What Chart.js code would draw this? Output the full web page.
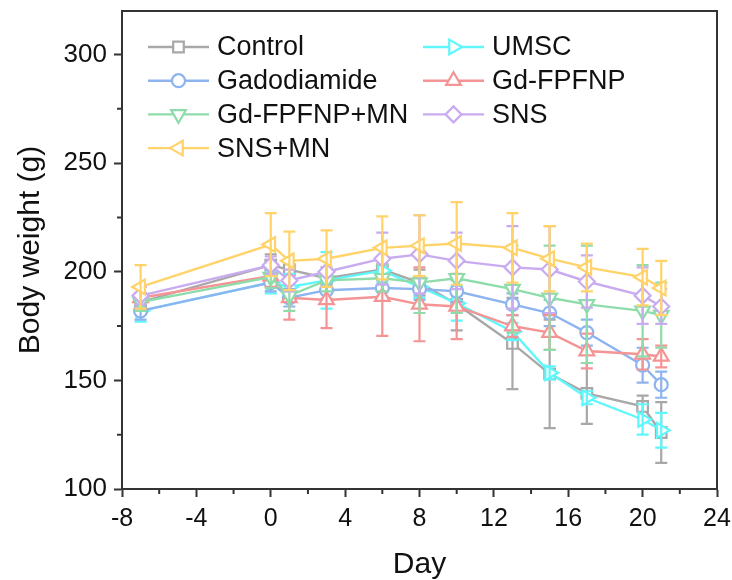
<!DOCTYPE html>
<html>
<head>
<meta charset="utf-8">
<script src="https://cdn.jsdelivr.net/npm/chart.js@4/dist/chart.umd.min.js"></script>
<style>
  html, body { margin: 0; padding: 0; background: #fff; }
  #wrap { width: 732px; height: 580px; }
</style>
</head>
<body>
<div id="wrap"><canvas id="chart" width="732" height="580"></canvas></div>
<script>
// ─── data ──────────────────────────────────────────────────────
const days = [-7, 0, 1, 3, 6, 8, 10, 13, 15, 17, 20, 21];

const control      = [186, 203, 201, 197, 201, 195, 185, 167, 153, 144, 138, 126];
const controlErr   = [4, 5, 4, 5, 5, 6, 12, 21, 25, 14, 5, 14];
const umsc         = [182, 195, 193, 196, 200.5, 193, 185.5, 172.5, 153.5, 142, 132, 127];
const umscErr      = [5, 5, 6, 13, 5, 5, 8, 4, 3, 3, 7, 8];
const gadodiamide  = [182, 195, 188, 191.5, 192.5, 192, 191, 185, 181, 172, 157, 148];
const gadoErr      = [4, 4, 4, 4, 4, 5, 5, 5, 6, 6, 8, 6];
const gdFpfnp      = [188, 198, 188, 187, 188.5, 185, 184, 175, 172, 163.5, 162, 161];
const gdFpfnpErr   = [5, 5, 10, 13, 18, 17, 15, 5, 8, 8, 7, 5];
const gdFpfnpMn    = [186, 197.5, 189, 196, 197, 195, 197, 192, 188, 185, 182, 180];
const gdFpfnpMnErr = [4, 5, 7, 5, 6, 14, 16, 20, 24, 27, 21, 15];
const sns          = [189, 203, 196, 200, 206, 208, 205, 202, 201, 195.5, 189, 184];
const snsErr       = [4, 4, 5, 7, 12, 18, 13, 19, 20, 12, 13, 8];
const snsMn        = [193, 212.5, 205, 206, 211, 212, 213, 211, 206, 202, 197.5, 192.5];
const snsMnErr     = [10, 14.5, 13.5, 13, 14.5, 14, 19, 16, 15, 11, 13, 12.5];

const xTicks = [-8, -4, 0, 4, 8, 12, 16, 20, 24];
const yTicks = [100, 150, 200, 250, 300];

const FONT = "'Liberation Sans', Arial, sans-serif";

// series: label, values, errors, colour, marker
const series = [
  ['Control',      control,     controlErr,   '#a8a8a8', 'rect',     0,   7.5],
  ['UMSC',         umsc,        umscErr,      '#5ff7fb', 'triangle', 90,  8.5],
  ['Gadodiamide',  gadodiamide, gadoErr,      '#8eb4f0', 'circle',   0,   6.5],
  ['Gd-FPFNP',     gdFpfnp,     gdFpfnpErr,   '#f59494', 'triangle', 0,   8.5],
  ['Gd-FPFNP+MN',  gdFpfnpMn,   gdFpfnpMnErr, '#8fdcab', 'triangle', 180, 8.5],
  ['SNS',          sns,         snsErr,       '#c9abf0', 'rectRot',  0,   8],
  ['SNS+MN',       snsMn,       snsMnErr,     '#ffd36a', 'triangle', -90, 8.5]
];

const datasets = series.map((s, i) => ({
  label: s[0],
  data: days.map((d, k) => ({ x: d, y: s[1][k] })),
  errors: s[2],
  borderColor: s[3],
  backgroundColor: '#ffffff',
  pointBackgroundColor: '#ffffff',
  pointBorderColor: s[3],
  pointStyle: s[4],
  pointRotation: s[5],
  pointRadius: s[6],
  pointHoverRadius: s[6],
  pointBorderWidth: 2.2,
  borderWidth: 2.4,
  tension: 0,
  order: -i
}));

// ─── error bars, drawn right after each series ─────────────────
const errorBars = {
  id: 'errorBars',
  afterDatasetDraw(chart, args) {
    const ds = chart.data.datasets[args.index];
    const ys = chart.scales.y;
    const ctx = chart.ctx;
    ctx.save();
    ctx.strokeStyle = ds.borderColor;
    ctx.lineWidth = 2.2;
    args.meta.data.forEach((pt, i) => {
      const v = ds.data[i].y, e = ds.errors[i];
      const top = ys.getPixelForValue(v + e);
      const bot = ys.getPixelForValue(v - e);
      const x = pt.x;
      ctx.beginPath();
      ctx.moveTo(x, top); ctx.lineTo(x, bot);
      ctx.moveTo(x - 6, top); ctx.lineTo(x + 6, top);
      ctx.moveTo(x - 6, bot); ctx.lineTo(x + 6, bot);
      ctx.stroke();
    });
    ctx.restore();
  }
};

// ─── frame + minor ticks ───────────────────────────────────────
const frame = {
  id: 'frame',
  afterDraw(chart) {
    const { ctx, chartArea: a, scales } = chart;
    ctx.save();
    ctx.strokeStyle = '#333';
    ctx.lineWidth = 2;
    ctx.beginPath();
    ctx.moveTo(a.left, a.top); ctx.lineTo(a.right, a.top); ctx.lineTo(a.right, a.bottom);
    // minor ticks
    [125, 175, 225, 275].forEach(v => {
      const y = scales.y.getPixelForValue(v);
      ctx.moveTo(a.left, y); ctx.lineTo(a.left - 5, y);
    });
    [-6, -2, 2, 6, 10, 14, 18, 22].forEach(v => {
      const x = scales.x.getPixelForValue(v);
      ctx.moveTo(x, a.bottom); ctx.lineTo(x, a.bottom + 5);
    });
    ctx.stroke();
    ctx.restore();
  }
};

// ─── legend inside the plot, two columns ──────────────────────
const legendInside = {
  id: 'legendInside',
  afterDraw(chart) {
    const ctx = chart.ctx;
    const cols = [
      { x: 148, items: ['Control', 'Gadodiamide', 'Gd-FPFNP+MN', 'SNS+MN'] },
      { x: 423, items: ['UMSC', 'Gd-FPFNP', 'SNS'] }
    ];
    ctx.save();
    ctx.font = `27px ${FONT}`;
    ctx.textBaseline = 'middle';
    cols.forEach(col => {
      col.items.forEach((name, r) => {
        const ds = chart.data.datasets.find(d => d.label === name);
        const y = 47 + r * 33.7;
        ctx.strokeStyle = ds.borderColor;
        ctx.lineWidth = 2.4;
        ctx.beginPath();
        ctx.moveTo(col.x, y); ctx.lineTo(col.x + 61, y);
        ctx.stroke();
        ctx.fillStyle = '#fff';
        ctx.lineWidth = 2.2;
        Chart.helpers.drawPoint(ctx, {
          pointStyle: ds.pointStyle, rotation: ds.pointRotation,
          radius: ds.pointRadius, borderWidth: 2.2
        }, col.x + 30.5, y);
        ctx.fillStyle = '#111';
        ctx.fillText(name, col.x + 69, y + 1);
      });
    });
    ctx.restore();
  }
};

new Chart(document.getElementById('chart'), {
  type: 'line',
  data: { datasets },
  plugins: [errorBars, frame, legendInside],
  options: {
    responsive: false,
    animation: false,
    events: [],
    layout: { padding: { top: 11, right: 15, left: 0, bottom: 0 } },
    plugins: { legend: { display: false }, tooltip: { enabled: false } },
    scales: {
      x: {
        type: 'linear', min: -8, max: 24,
        afterBuildTicks: s => { s.ticks = xTicks.map(v => ({ value: v })); },
        afterFit: s => { s.height = 91; s.paddingLeft = 0; s.paddingRight = 0; },
        grid: { drawOnChartArea: false, drawTicks: true, tickLength: 8, tickColor: '#333', tickWidth: 2 },
        border: { color: '#333', width: 2 },
        ticks: { color: '#111', font: { family: FONT, size: 25 }, padding: 7, maxRotation: 0 },
        title: { display: true, text: 'Day', color: '#111', font: { family: FONT, size: 30 }, padding: { top: 4, bottom: -3 } }
      },
      y: {
        type: 'linear', min: 100, max: 320,
        afterBuildTicks: s => { s.ticks = yTicks.map(v => ({ value: v })); },
        afterFit: s => { s.width = 122; s.paddingTop = 0; s.paddingBottom = 0; },
        grid: { drawOnChartArea: false, drawTicks: true, tickLength: 8, tickColor: '#333', tickWidth: 2 },
        border: { color: '#333', width: 2 },
        ticks: { color: '#111', font: { family: FONT, size: 26 }, padding: 7 },
        title: { display: true, text: 'Body weight (g)', color: '#111', font: { family: FONT, size: 30 }, padding: { top: 13, bottom: 0 } }
      }
    }
  }
});
</script>
</body>
</html>
